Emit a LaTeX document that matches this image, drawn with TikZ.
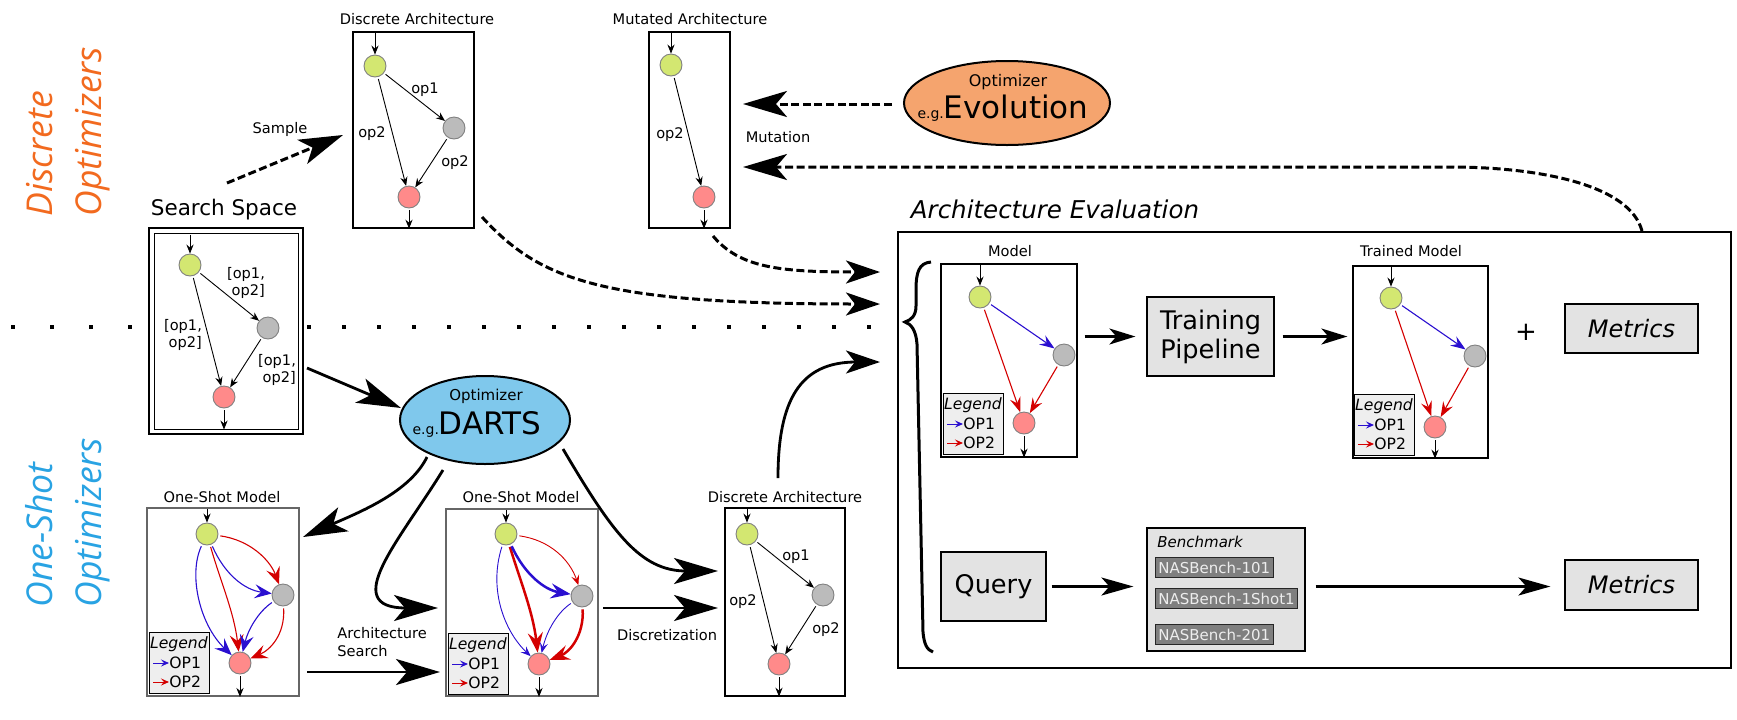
\documentclass[tikz,border=0pt]{standalone}
\usepackage{fontspec}
\setmainfont{DejaVu Sans}
\newfontfamily\osfont{Open Sans}
\usetikzlibrary{arrows.meta,shapes.geometric,fit}
\definecolor{orangeT}{HTML}{F26A1F}
\definecolor{blueT}{HTML}{29A3E3}
\definecolor{evofill}{HTML}{F5A46E}
\definecolor{dartsfill}{HTML}{7FC8EC}
\definecolor{ngreen}{HTML}{D3E771}
\definecolor{ngray}{HTML}{BBBBBB}
\definecolor{nred}{HTML}{FF8A8A}
\definecolor{ndline}{HTML}{808080}
\definecolor{boxfill}{HTML}{E3E3E3}
\definecolor{legfill}{HTML}{EEEEEE}
\definecolor{nasfill}{HTML}{7F7F7F}
\definecolor{opblue}{HTML}{2A0FD0}
\definecolor{opred}{HTML}{D40000}
\definecolor{osline}{HTML}{666666}
\newcommand\fsz[2]{\fontsize{#1}{#2}\selectfont}
\newcommand\mylegend[3]{%
  \node[legbox, fit={(#1,#2)({#1+60},{#2+61})}] (#3) {};
  \node[legtxt, font=\itshape\fsz{7.8}{9}] (#3t) at ({#1+30},{#2+12}) {Legend};
  \draw[legarr, opblue] ({#1+4},{#2+31}) -- ({#1+20},{#2+31});
  \node[legtxt, anchor=west] (#3a) at ({#1+20},{#2+31}) {OP1};
  \draw[legarr, opred] ({#1+4},{#2+50}) -- ({#1+20},{#2+50});
  \node[legtxt, anchor=west] (#3b) at ({#1+20},{#2+50}) {OP2};
}
\begin{document}
\begin{tikzpicture}[x=0.5pt,y=-0.5pt,
  lbl/.style={font=\fsz{7.3}{8.8}, inner sep=0pt, align=center},
  plainbox/.style={draw, inner sep=0pt, line width=0.6pt},
  graybox/.style={draw, fill=boxfill, inner sep=0pt, line width=0.6pt},
  osbox/.style={draw=osline, inner sep=0pt, line width=0.9pt},
  legbox/.style={draw, fill=legfill, inner sep=0pt, line width=0.5pt},
  legtxt/.style={font=\fsz{7.8}{9}, inner sep=0pt},
  legarr/.style={-{Stealth[length=4pt,width=3.5pt,inset=1.5pt]}, line width=0.5pt},
  nd/.style={circle, draw=ndline, line width=0.45pt, minimum size=11pt, inner sep=0pt},
  gn/.style={nd, fill=ngreen},
  gy/.style={nd, fill=ngray},
  rd/.style={nd, fill=nred},
  sarr/.style={-{Stealth[length=4.5pt,width=3.6pt,inset=1.5pt]}, line width=0.45pt, shorten <=1pt},
  marr/.style={-{Stealth[length=7.5pt,width=5.5pt,inset=2.7pt]}, line width=0.55pt, shorten <=1pt},
  oarr/.style={-{Stealth[length=8.5pt,width=7pt,inset=3.2pt]}, line width=0.55pt, shorten <=1pt},
  tarr/.style={-{Stealth[length=5pt,width=4pt,inset=2pt]}, line width=0.45pt, shorten <=1pt},
  karr/.style={-{Stealth[length=10pt,width=7.5pt,inset=3.5pt]}, line width=1.25pt, shorten <=1pt},
  bigarr/.style={-{Stealth[length=22pt,width=13pt,inset=5.5pt]}, line width=1.4pt},
  medarr/.style={-{Stealth[length=17pt,width=11.5pt,inset=4.5pt]}, line width=1.4pt},
  smarr/.style={-{Stealth[length=13pt,width=8pt,inset=3.5pt]}, line width=1.1pt},
  qarr/.style={-{Stealth[length=16pt,width=9pt,inset=4pt]}, line width=1.1pt},
  dsh/.style={dash pattern=on 4pt off 1.8pt, line width=1.5pt},
  sidelbl/.style={font=\osfont\itshape\fsz{17.8}{20}, inner sep=0pt, rotate=90, anchor=base west},
]
\useasboundingbox (0,0) rectangle (1737,719);

% ---------- side labels ----------
\node[sidelbl, text=orangeT] (sd1) at (53,217) {Discrete};
\node[sidelbl, text=orangeT] (sd2) at (101,217) {Optimizers};
\node[sidelbl, text=blueT] (so1) at (53,608) {One-Shot};
\node[sidelbl, text=blueT] (so2) at (101,608) {Optimizers};

% ---------- dotted separator ----------
\foreach \x in {13,52,91,130} \fill (\x-2,325) rectangle (\x+2,329);
\foreach \k in {0,...,16} \fill ({309+35*\k-2},325) rectangle ({309+35*\k+2},329);

% ---------- search space ----------
\node[font=\fsz{10.75}{12}, inner sep=0pt] (sstitle) at (224,210) {Search Space};
\node[draw, line width=1.3pt, inner sep=0pt, fit={(149,228)(303,434)}] (ssout) {};
\node[draw, line width=0.5pt, inner sep=0pt, fit={(154,233)(298,429)}] (ssin) {};
\node[gn] (ssg) at (190,265) {};
\node[gy] (sss) at (268,328) {};
\node[rd] (ssr) at (224,397) {};
\draw[sarr] (ssg |- ssin.north) -- (ssg);
\draw[sarr] (ssr) -- (ssr |- ssin.south);
\draw[sarr] (ssg) -- (sss);
\draw[sarr] (ssg) -- (ssr);
\draw[sarr] (sss) -- (ssr);
\node[lbl, align=right] (ssl1) at (246,283) {[op1,\\ op2]};
\node[lbl, align=right] (ssl2) at (183,335) {[op1,\\ op2]};
\node[lbl, align=right] (ssl3) at (277,370) {[op1,\\ op2]};

% ---------- discrete architecture (top) ----------
\node[lbl] (da1t) at (417,19) {Discrete Architecture};
\node[plainbox, fit={(353,32)(474,228)}] (da1) {};
\node[gn] (dag) at (375,66) {};
\node[gy] (das) at (454,128) {};
\node[rd] (dar) at (409,197) {};
\draw[sarr] (dag |- da1.north) -- (dag);
\draw[sarr] (dar) -- (dar |- da1.south);
\draw[sarr] (dag) -- (das);
\draw[sarr] (dag) -- (dar);
\draw[sarr] (das) -- (dar);
\node[lbl] (dal1) at (425,90) {op1};
\node[lbl] (dal2) at (372,134) {op2};
\node[lbl] (dal3) at (455,163) {op2};

% sample arrow
\coordinate (smpS) at (227,183);
\coordinate (smpE) at (343,135);
\draw[bigarr, dsh] (smpS) -- (smpE);
\node[lbl] (smpl) at (280,129) {Sample};

% ---------- mutated architecture ----------
\node[lbl] (mat) at (690,19) {Mutated Architecture};
\node[plainbox, fit={(649,32)(730,228)}] (ma) {};
\node[gn] (mag) at (671,65) {};
\node[rd] (mar) at (704,197) {};
\draw[sarr] (mag |- ma.north) -- (mag);
\draw[sarr] (mar) -- (mar |- ma.south);
\draw[sarr] (mag) -- (mar);
\node[lbl] (mal) at (670,135) {op2};

% ---------- evolution optimizer ----------
\node[ellipse, draw, line width=1pt, fill=evofill, minimum width=103pt, minimum height=42pt, inner sep=0pt] (evo) at (1007,103) {};
\node[font=\fsz{8}{9}, inner sep=0pt, anchor=base] (evoa) at (1008,86) {Optimizer};
\node[inner sep=0pt, anchor=base] (evob) at (1003,118) {\fsz{7}{8}e.g.\fsz{15.5}{17}Evolution};
\coordinate (evoL) at (892,104);
\coordinate (mutA) at (743,104);
\draw[bigarr, dsh] (evoL) -- (mutA);
\node[lbl] (mutl) at (778,137) {Mutation};
\coordinate (evTop) at (1642,231);
\coordinate (mutB) at (743,167);
\draw[bigarr, dsh] (evTop) .. controls (1630,185) and (1540,167) .. (1450,167) -- (mutB);

% ---------- DARTS optimizer ----------
\node[ellipse, draw, line width=1pt, fill=dartsfill, minimum width=85pt, minimum height=44pt, inner sep=0pt] (darts) at (485,420) {};
\node[font=\fsz{7.5}{9}, inner sep=0pt, anchor=base] (dartsa) at (486,400) {Optimizer};
\node[inner sep=0pt, anchor=base] (dartsb) at (477,434) {\fsz{7}{8}e.g.\fsz{15.5}{17}DARTS};
\coordinate (ssA) at (307,368);
\coordinate (dartsIn) at (401,408);
\draw[bigarr] (ssA) -- (dartsIn);

% ---------- one-shot model 1 ----------
\node[lbl] (os1t) at (222,497) {One-Shot Model};
\node[osbox, fit={(147,508)(299,696)}] (os1) {};
\node[gn] (g1) at (207,534) {};
\node[gy] (s1) at (283,595) {};
\node[rd] (r1) at (240,663) {};
\draw[sarr] (g1 |- os1.north) -- (g1);
\draw[sarr] (r1) -- (r1 |- os1.south);
\draw[oarr, opblue] (g1) .. controls (188,575) and (200,625) .. (r1);
\draw[oarr, opred] (g1) .. controls (220,580) and (234,612) .. (r1);
\draw[oarr, opblue] (g1) .. controls (225,575) and (245,590) .. (s1);
\draw[oarr, opred] (g1) .. controls (250,540) and (270,560) .. (s1);
\draw[oarr, opblue] (s1) .. controls (258,612) and (248,630) .. (r1);
\draw[oarr, opred] (s1) .. controls (285,635) and (270,650) .. (r1);
\mylegend{149}{632}{lg1}

% ---------- one-shot model 2 ----------
\node[lbl] (os2t) at (521,497) {One-Shot Model};
\node[osbox, fit={(446,509)(598,696)}] (os2) {};
\node[gn] (g2) at (506,534) {};
\node[gy] (s2) at (582,596) {};
\node[rd] (r2) at (539,664) {};
\draw[sarr] (g2 |- os2.north) -- (g2);
\draw[sarr] (r2) -- (r2 |- os2.south);
\draw[tarr, opblue] (g2) .. controls (488,590) and (505,632) .. (r2);
\draw[karr, opred] (g2) .. controls (520,580) and (533,612) .. (r2);
\draw[karr, opblue] (g2) .. controls (525,575) and (545,590) .. (s2);
\draw[tarr, opred] (g2) .. controls (550,540) and (570,560) .. (s2);
\draw[tarr, opblue] (s2) .. controls (558,612) and (547,630) .. (r2);
\draw[karr, opred] (s2) .. controls (584,635) and (570,652) .. (r2);
\mylegend{448}{633}{lg2}

% ---------- discrete architecture (bottom) ----------
\node[lbl] (da2t) at (785,497) {Discrete Architecture};
\node[plainbox, fit={(725,508)(845,696)}] (da2) {};
\node[gn] (dbg) at (747,534) {};
\node[gy] (dbs) at (823,595) {};
\node[rd] (dbr) at (779,664) {};
\draw[sarr] (dbg |- da2.north) -- (dbg);
\draw[sarr] (dbr) -- (dbr |- da2.south);
\draw[sarr] (dbg) -- (dbs);
\draw[sarr] (dbg) -- (dbr);
\draw[sarr] (dbs) -- (dbr);
\node[lbl] (dbl1) at (796,557) {op1};
\node[lbl] (dbl2) at (743,602) {op2};
\node[lbl] (dbl3) at (826,630) {op2};

% ---------- bottom-left connectors ----------
\coordinate (dA1) at (427,457);
\coordinate (os1In) at (303,537);
\draw[bigarr] (dA1) .. controls (410,492) and (360,512) .. (os1In);
\coordinate (dA2) at (443,470);
\coordinate (os2In) at (438,608);
\draw[bigarr] (dA2) .. controls (400,540) and (338,608) .. (os2In);
\coordinate (dA3) at (563,449);
\coordinate (da2In) at (718,571);
\draw[bigarr] (dA3) .. controls (612,532) and (640,571) .. (da2In);
\coordinate (asA) at (307,672);
\coordinate (asB) at (440,672);
\draw[bigarr] (asA) -- (asB);
\node[lbl, align=left, anchor=west] (asl) at (337,642) {Architecture\\Search};
\coordinate (dzA) at (603,608);
\coordinate (dzB) at (718,608);
\draw[bigarr] (dzA) -- (dzB);
\node[lbl] (dzl) at (667,635) {Discretization};

% ---------- architecture evaluation ----------
\node[font=\itshape\fsz{12.25}{14}, inner sep=0pt] (evt) at (1055,209) {Architecture Evaluation};
\node[plainbox, fit={(898,232)(1731,668)}] (ev) {};
\draw[line width=1.5pt] (931,262) .. controls (919,263) and (916,272) .. (916,290) -- (916,306)
  .. controls (916,316) and (911,320) .. (905,322) .. controls (911,324) and (916,330) .. (917,344)
  -- (923,632) .. controls (924,644) and (927,650) .. (933,652);

\coordinate (evIn1) at (880,272);
\coordinate (evIn2) at (880,304);
\coordinate (evIn3) at (880,362);
\coordinate (maOut) at (713,236);
\coordinate (daOut) at (482,217);
\coordinate (dbOut) at (778,478);
\draw[medarr, dsh] (maOut) .. controls (740,268) and (780,272) .. (evIn1);
\draw[medarr, dsh] (daOut) .. controls (540,280) and (600,304) .. (evIn2);
\draw[medarr] (dbOut) .. controls (778,400) and (800,362) .. (evIn3);

% model
\node[lbl] (mdt) at (1010,251) {Model};
\node[plainbox, fit={(941,264)(1077,457)}] (md) {};
\node[gn] (mg) at (980,297) {};
\node[gy] (ms) at (1064,355) {};
\node[rd] (mr) at (1024,423) {};
\draw[sarr] (mg |- md.north) -- (mg);
\draw[sarr] (mr) -- (mr |- md.south);
\draw[marr, opblue] (mg) -- (ms);
\draw[marr, opred] (mg) -- (mr);
\draw[marr, opred] (ms) -- (mr);
\mylegend{943}{393}{lg3}

% training pipeline
\node[graybox, fit={(1147,297)(1274,376)}] (trn) {};
\node[font=\fsz{12.8}{14.5}, align=center, inner sep=0pt] (trnt) at (trn.center) {Training\\Pipeline};
\draw[smarr, shorten <=3.5pt, shorten >=5.5pt] (md.east |- trn.west) -- (trn.west);

% trained model
\node[lbl] (tmt) at (1411,251) {Trained Model};
\node[plainbox, fit={(1353,266)(1488,458)}] (tm) {};
\node[gn] (tg) at (1391,298) {};
\node[gy] (ts) at (1475,356) {};
\node[rd] (tr) at (1435,427) {};
\draw[sarr] (tg |- tm.north) -- (tg);
\draw[sarr] (tr) -- (tr |- tm.south);
\draw[marr, opblue] (tg) -- (ts);
\draw[marr, opred] (tg) -- (tr);
\draw[marr, opred] (ts) -- (tr);
\mylegend{1354}{394}{lg4}
\draw[smarr, shorten <=4pt, shorten >=2.5pt] (trn.east) -- (tm.west |- trn.east);

\node[font=\fsz{13}{14}, inner sep=0pt] (plus) at (1526,332) {+};
\node[graybox, fit={(1565,304)(1698,353)}] (met1) {};
\node[font=\itshape\fsz{12}{14}, inner sep=0pt] (met1t) at (met1.center) {Metrics};

% query / benchmark
\node[graybox, fit={(941,552)(1046,621)}] (qry) {};
\node[font=\fsz{12.8}{14}, inner sep=0pt] (qryt) at (qry.center) {Query};
\node[graybox, fit={(1147,528)(1305,651)}] (bch) {};
\node[font=\itshape\fsz{7.5}{8.8}, inner sep=0pt, anchor=west] (bcht) at (1157,542) {Benchmark};
\tikzset{nasb/.style={draw=black!85, fill=nasfill, text=white!93!black, font=\fsz{7.5}{8.5}, inner sep=1.5pt, minimum height=10pt, anchor=north west}}
\node[nasb] (nb1) at (1155,557) {NASBench-101};
\node[nasb] (nb2) at (1155,588) {NASBench-1Shot1};
\node[nasb] (nb3) at (1155,624) {NASBench-201};
\node[graybox, fit={(1565,560)(1698,610)}] (met2) {};
\node[font=\itshape\fsz{12}{14}, inner sep=0pt] (met2t) at (met2.center) {Metrics};
\draw[qarr, shorten <=2.5pt, shorten >=6.5pt] (qry.east) -- (bch.west |- qry.east);
\draw[qarr, shorten <=5pt, shorten >=7pt] (bch.east |- qry.east) -- (met2.west |- qry.east);

\end{tikzpicture}
\end{document}
